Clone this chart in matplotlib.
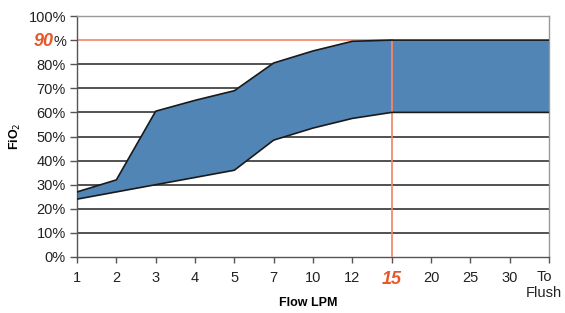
import matplotlib
matplotlib.use("Agg")
import matplotlib.pyplot as plt
import matplotlib.transforms as mtransforms
import numpy as np

plt.rcParams['font.family'] = ['Liberation Sans', 'DejaVu Sans']

categories = ['1', '2', '3', '4', '5', '7', '10', '12', '15', '20', '25', '30', 'To\nFlush']
upper = [27, 32, 60.5, 65, 69, 80.5, 85.5, 89.5, 90, 90, 90, 90, 90]
lower = [24, 27, 30, 33, 36, 48.5, 53.5, 57.5, 60, 60, 60, 60, 60]
yticks = [0, 10, 20, 30, 40, 50, 60, 70, 80, 90, 100]
highlight_y = 90
highlight_x = '15'

fig = plt.figure(figsize=(5.65, 3.13), dpi=100)
ax = fig.add_axes([77/565, 1-257/313, (549-77)/565, (257-16)/313])

x = np.arange(len(categories))
hx = categories.index(highlight_x)

# gridlines
for yv in yticks[1:-1]:
    if yv == highlight_y:
        continue
    ax.axhline(yv, color='#333333', lw=1.2, zorder=1)
ax.plot([0, hx], [highlight_y, highlight_y], color='#f08468', lw=1.2, zorder=1)
ax.plot([hx, hx], [0, highlight_y], color='#f08468', lw=1.2, zorder=3)

ax.fill_between(x, lower, upper, facecolor='#5085b5', edgecolor='none', zorder=2)
ax.plot(x, upper, color='#1a1a1a', lw=1.2, zorder=4)
ax.plot(x, lower, color='#1a1a1a', lw=1.2, zorder=4)
ax.plot([hx, hx], [lower[hx], upper[hx]], color='#f08468', lw=1.2, zorder=3)

ax.set_xlim(0, len(categories) - 1)
ax.set_ylim(0, 100)
ax.set_yticks(yticks)
ylabels = [f'{v}%' for v in yticks]
ylabels[yticks.index(highlight_y)] = '%'
ax.set_yticklabels(ylabels, fontsize=10.5, color='#222222')
ax.set_xticks(x)
xlabels = list(categories)
xlabels[hx] = ''
xlabels[-1] = ''
ax.set_xticklabels(xlabels, fontsize=10.5, color='#222222', va='top')

off = mtransforms.ScaledTranslation(-5/100, 0, fig.dpi_scale_trans)
ax.text(x[-1], -0.054, categories[-1], transform=ax.get_xaxis_transform() + off,
        ha='center', va='top', multialignment='center', fontsize=10.5, color='#222222',
        linespacing=1.2)

for side in ['top', 'right']:
    ax.spines[side].set_color('#999999')
    ax.spines[side].set_linewidth(1.0)
for side in ['left', 'bottom']:
    ax.spines[side].set_color('#555555')
    ax.spines[side].set_linewidth(1.0)
ax.tick_params(axis='y', length=5, width=1, color='#555555', pad=3)
ax.tick_params(axis='x', length=4, width=1, color='#555555', pad=6)

ax.set_xlabel('Flow LPM', fontsize=9, fontweight='bold')
ax.xaxis.set_label_coords(0.49, -0.165)
ax.set_ylabel('FiO$_2$', fontsize=9, fontweight='bold')
ax.yaxis.set_label_coords(-0.114, 0.5)

fig.canvas.draw()
r = fig.canvas.get_renderer()
lab = ax.get_yticklabels()[yticks.index(highlight_y)]
bb = lab.get_window_extent(r)
fig.text((bb.x0 + 0.5) / fig.bbox.width, (bb.y0 + bb.y1) / 2 / fig.bbox.height, str(highlight_y),
         ha='right', va='center', color='#e8572a', fontsize=13, fontweight='bold', style='italic')
ax.text(hx, -0.06, highlight_x, transform=ax.get_xaxis_transform(), ha='center', va='top',
        color='#e8572a', fontsize=13, fontweight='bold', style='italic')

fig.savefig('out.png', dpi=100)
